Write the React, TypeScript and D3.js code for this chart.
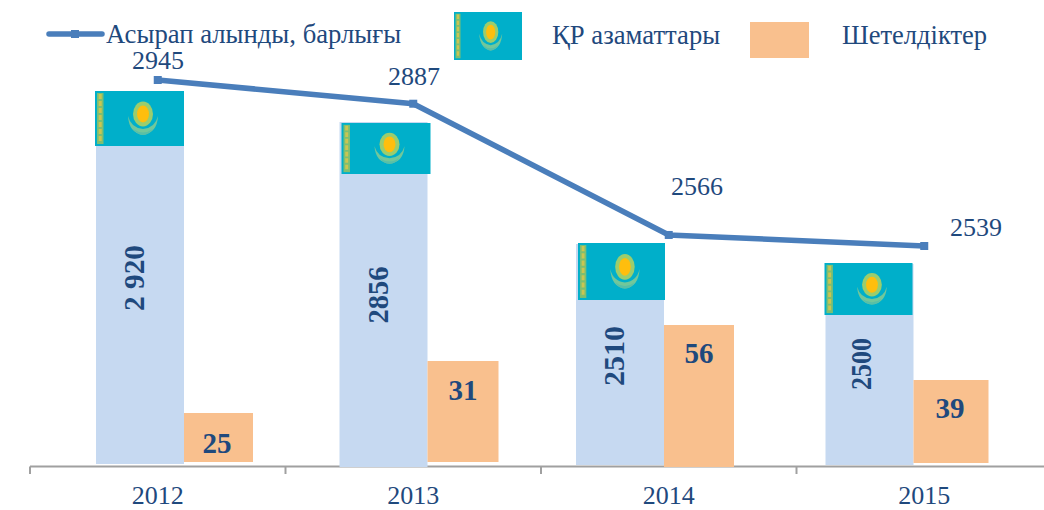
import React from 'react'
import * as d3 from 'd3'

const years = ['2012', '2013', '2014', '2015']
const totals = [2945, 2887, 2566, 2539]
const citizens = [2920, 2856, 2510, 2500]
const citizenLabels = ['2 920', '2856', '2510', '2500']
const foreigners = [25, 31, 56, 39]

const legendLine = 'Асырап алынды, барлығы'
const legendCitizens = 'ҚР азаматтары'
const legendForeigners = 'Шетелдіктер'

const width = 1044
const height = 510
const navy = '#1F497D'
const lineBlue = '#4A7EBB'
const lightBlue = '#C6D9F1'
const peach = '#F9C08E'
const font = '"Liberation Serif", "Times New Roman", serif'

// the source is a hand-arranged slide: bars do not follow one linear axis
const x = d3.scaleBand().domain(years).range([30, 1052])
const yLine = d3.scaleLinear().domain([2539, 2945]).range([246, 80])
const yCitizens = d3.scaleLinear().domain([2500, 2510, 2856, 2920]).range([264, 244, 122, 92])
const yForeigners = d3.scaleLinear().domain([25, 31, 39, 56]).range([413, 361, 380, 325])

// per-year layout, relative to the band start
const blueDx = [66, 54, 35, 29]
const blueW = 88
const blueBase = [464, 467, 465, 465]
const orangeW = [69, 71, 70, 75]
const orangeBase = [462, 462, 467, 463]
const flagDx = [65, 56, 37, 28]
const flagW = [89, 89, 87, 88]
const flagTop = [91, 123, 243, 263]
const flagH = [55, 51, 57, 52]
const totalLabelPos = [[158, 69], [414, 85], [697, 195], [976, 236]]
const blueLabelPos = [[134, 278], [378, 295], [614, 356], [861, 364]]
const blueLabelLen = [66, 57, 60, 52]
const orangeLabelPos = [[217, 443], [463, 390], [699, 353], [950, 408]]

function Flag({ px, py, w, h }: { px: number; py: number; w: number; h: number }) {
  const sx = w / 89
  const sy = h / 55
  return (
    <g transform={`translate(${px},${py}) scale(${sx},${sy})`}>
      <rect width={89} height={55} fill="#00AFCA" />
      <g filter="url(#soft)">
        <rect x={2} y={2} width={6.5} height={51} fill="#7DBF72" />
        <line x1={5.2} x2={5.2} y1={3} y2={52} stroke="#C9C552" strokeWidth={3} strokeDasharray="5 2" />
        <path d="M33 25 Q34 42 48 44 Q62 42 63 25 Q60 37 48 38 Q36 37 33 25Z" fill="#72C79A" />
        <path d="M38 38 Q48 50 58 38 Q48 45 38 38Z" fill="#58BFA8" />
        <ellipse cx={48} cy={23} rx={10} ry={12.5} fill="#9ACD6E" />
        <ellipse cx={48} cy={23} rx={6} ry={8.5} fill="#FFBE0B" />
      </g>
    </g>
  )
}

export default function App() {
  const line = d3.line<number>()
    .x((_, i) => (x(years[i]) as number) + x.bandwidth() / 2)
    .y(d => yLine(d))
  const edges = [...years.map(y => x(y) as number)]
  const axisY = 466.5

  return (
    <svg
      width={width}
      height={height}
      viewBox={`0 0 ${width} ${height}`}
      style={{ position: 'absolute', left: 0, top: 0, fontFamily: font }}
    >
      <defs>
        <filter id="soft" x="-20%" y="-20%" width="140%" height="140%">
          <feGaussianBlur stdDeviation="0.5" />
        </filter>
      </defs>

      {/* axis */}
      <line x1={edges[0]} x2={width} y1={axisY} y2={axisY} stroke="#A0A0A0" strokeWidth={2} />
      {edges.map(e => (
        <line key={e} x1={e} x2={e} y1={axisY} y2={474} stroke="#A0A0A0" strokeWidth={2} />
      ))}

      {/* bars */}
      {years.map((year, i) => {
        const start = x(year) as number
        const bx = start + blueDx[i]
        const top = yCitizens(citizens[i])
        const oTop = yForeigners(foreigners[i])
        return (
          <g key={year}>
            <rect x={bx} y={top} width={blueW} height={blueBase[i] - top} fill={lightBlue} />
            <rect x={bx + blueW} y={oTop} width={orangeW[i]} height={orangeBase[i] - oTop} fill={peach} />
            <Flag px={start + flagDx[i]} py={flagTop[i]} w={flagW[i]} h={flagH[i]} />
          </g>
        )
      })}

      {/* total line */}
      <path d={line(totals) as string} fill="none" stroke={lineBlue} strokeWidth={5.5} />
      {totals.map((d, i) => (
        <rect
          key={years[i]}
          x={(x(years[i]) as number) + x.bandwidth() / 2 - 4}
          y={yLine(d) - 4}
          width={8}
          height={8}
          fill={lineBlue}
        />
      ))}

      {/* labels */}
      <g fill={navy} fontSize={26} textAnchor="middle">
        {totals.map((d, i) => (
          <text key={years[i]} x={totalLabelPos[i][0]} y={totalLabelPos[i][1]}>{d}</text>
        ))}
        {years.map(year => (
          <text key={year} x={(x(year) as number) + x.bandwidth() / 2} y={504}>{year}</text>
        ))}
      </g>
      <g fill={navy} fontSize={29} fontWeight="bold" textAnchor="middle" dominantBaseline="central">
        {citizenLabels.map((d, i) => (
          <text
            key={years[i]}
            transform={`translate(${blueLabelPos[i][0]},${blueLabelPos[i][1]}) rotate(-90)`}
            textLength={blueLabelLen[i]}
            lengthAdjust="spacingAndGlyphs"
          >
            {d}
          </text>
        ))}
        {foreigners.map((d, i) => (
          <text key={years[i]} x={orangeLabelPos[i][0]} y={orangeLabelPos[i][1]}>{d}</text>
        ))}
      </g>

      {/* legend */}
      <line x1={49} x2={102} y1={34} y2={34} stroke={lineBlue} strokeWidth={5.5} strokeLinecap="round" />
      <rect x={71} y={30} width={8} height={8} fill={lineBlue} />
      <g fill={navy} fontSize={26.7}>
        <text x={106} y={43}>{legendLine}</text>
        <text x={552} y={44}>{legendCitizens}</text>
        <text x={842} y={44} fontSize={26.5}>{legendForeigners}</text>
      </g>
      <Flag px={454} py={12} w={68} h={48} />
      <rect x={750} y={22} width={59} height={36} fill={peach} />
    </svg>
  )
}
